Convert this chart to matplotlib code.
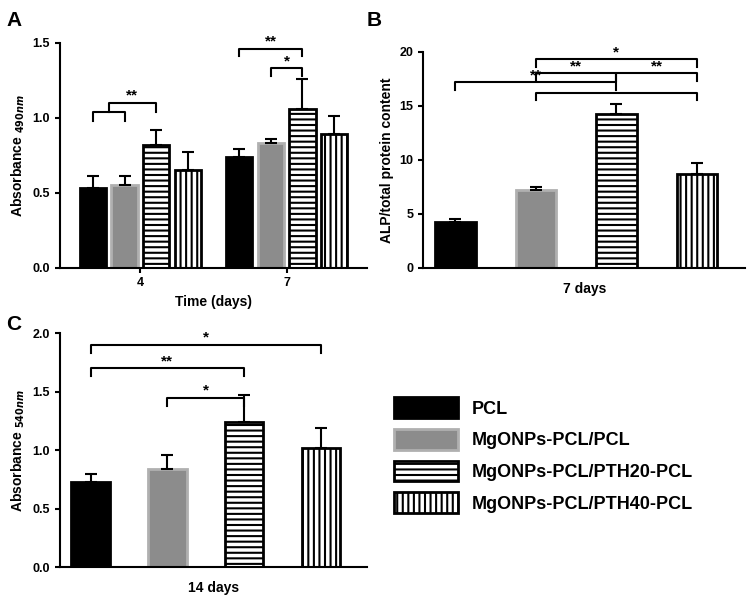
import numpy as np
import matplotlib
matplotlib.use("Agg")
import matplotlib.pyplot as plt

plt.rcParams["font.family"] = "Liberation Sans"
plt.rcParams["font.weight"] = "bold"
plt.rcParams["hatch.linewidth"] = 1.5

labels = ["PCL", "MgONPs-PCL/PCL", "MgONPs-PCL/PTH20-PCL", "MgONPs-PCL/PTH40-PCL"]
a_days = ["4", "7"]
a_vals = [[0.53, 0.55, 0.82, 0.65], [0.74, 0.83, 1.06, 0.89]]
a_err = [[0.08, 0.06, 0.10, 0.12], [0.05, 0.03, 0.20, 0.12]]
b_vals = [4.2, 7.2, 14.2, 8.7]
b_err = [0.3, 0.3, 1.0, 1.0]
c_vals = [0.73, 0.84, 1.24, 1.02]
c_err = [0.07, 0.12, 0.23, 0.17]

faces = ["black", "#8c8c8c", "white", "white"]
edges = ["black", "#b0b0b0", "black", "black"]
hatches = [None, None, "---", "|||"]

fig = plt.figure(figsize=(7.49, 5.95), dpi=100)
axA = fig.add_axes([0.08, 0.55, 0.41, 0.378])
axB = fig.add_axes([0.565, 0.55, 0.43, 0.363])
axC = fig.add_axes([0.08, 0.047, 0.41, 0.393])

def style(ax):
    for s in ["top", "right"]:
        ax.spines[s].set_visible(False)
    for s in ["left", "bottom"]:
        ax.spines[s].set_linewidth(1.5)
    ax.tick_params(width=1.5, labelsize=9)

def bar(ax, x, v, e, i, w):
    ax.bar(x, v, w, color=faces[i], edgecolor=edges[i], hatch=hatches[i], linewidth=2,
           label=labels[i])
    ax.errorbar(x, v, yerr=[[0], [e]], color="black", capsize=4, lw=1.5, capthick=1.5)

def bracket(ax, x1, x2, y, txt, h):
    ax.plot([x1, x1, x2, x2], [y - h, y, y, y - h], color="black", lw=1.5)
    if txt:
        ax.text((x1 + x2) / 2, y, txt, ha="center", va="bottom", fontsize=11, fontweight="bold")

# Panel A
w = 0.18
for g in range(2):
    for i in range(4):
        bar(axA, g + (i - 1.5) * w * 1.2, a_vals[g][i], a_err[g][i], i, w)
style(axA)
axA.set_xlim(-0.55, 1.55)
axA.set_ylim(0, 1.5)
axA.set_yticks([0, 0.5, 1.0, 1.5])
axA.set_xticks([0, 1])
axA.set_xticklabels(a_days)
axA.set_xlabel("Time (days)", fontsize=10, fontweight="bold")
axA.set_ylabel("Absorbance $_{490nm}$", fontsize=10, fontweight="bold")
p = [(i - 1.5) * w * 1.2 for i in range(4)]
bracket(axA, p[0], p[1], 1.04, None, 0.06)
bracket(axA, (p[0] + p[1]) / 2, p[2], 1.1, "**", 0.06)
bracket(axA, 1 + p[0], 1 + p[2], 1.46, "**", 0.05)
bracket(axA, 1 + p[1], 1 + p[2], 1.33, "*", 0.05)

# Panel B
for i in range(4):
    bar(axB, i, b_vals[i], b_err[i], i, 0.5)
style(axB)
axB.set_xlim(-0.4, 3.6)
axB.set_ylim(0, 20)
axB.set_yticks([0, 5, 10, 15, 20])
axB.set_xticks([])
axB.set_xlabel("7 days", fontsize=10, fontweight="bold", labelpad=10)
axB.set_ylabel("ALP/total protein content", fontsize=10, fontweight="bold")
bracket(axB, 1, 3, 19.3, "*", 0.7)
bracket(axB, 1, 2, 18.0, "**", 0.7)
bracket(axB, 2, 3, 18.0, "**", 0.7)
bracket(axB, 0, 2, 17.2, "**", 0.7)
bracket(axB, 1, 3, 16.2, None, 0.7)

# Panel C
for i in range(4):
    bar(axC, i, c_vals[i], c_err[i], i, 0.5)
style(axC)
axC.set_xlim(-0.4, 3.6)
axC.set_ylim(0, 2.0)
axC.set_yticks(np.arange(0, 2.01, 0.5))
axC.set_xticks([])
axC.set_xlabel("14 days", fontsize=10, fontweight="bold", labelpad=10)
axC.set_ylabel("Absorbance $_{540nm}$", fontsize=10, fontweight="bold")
bracket(axC, 0, 3, 1.9, "*", 0.07)
bracket(axC, 0, 2, 1.7, "**", 0.07)
bracket(axC, 1, 2, 1.45, "*", 0.07)

fig.text(0.008, 0.965, "A", fontsize=15, fontweight="bold", va="center")
fig.text(0.49, 0.965, "B", fontsize=15, fontweight="bold", va="center")
fig.text(0.008, 0.455, "C", fontsize=15, fontweight="bold", va="center")

h, l = axC.get_legend_handles_labels()
fig.legend(h, l, loc="center left", bbox_to_anchor=(0.505, 0.235), frameon=False,
           handlelength=3.5, handleheight=1.4, labelspacing=0.6,
           prop={"weight": "bold", "size": 13})

fig.savefig("out.png", dpi=100)
